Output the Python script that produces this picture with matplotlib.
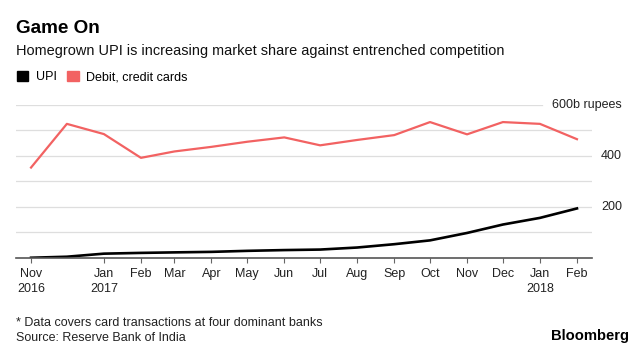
import matplotlib
matplotlib.use("Agg")
import matplotlib.pyplot as plt
from matplotlib.patches import Rectangle
from matplotlib.transforms import blended_transform_factory
import datetime as dt

plt.rcParams['font.family'] = ['Liberation Sans', 'DejaVu Sans']

# ---- data ----
months = ["2016-11", "2016-12", "2017-01", "2017-02", "2017-03", "2017-04",
          "2017-05", "2017-06", "2017-07", "2017-08", "2017-09", "2017-10",
          "2017-11", "2017-12", "2018-01", "2018-02"]
upi = [1, 5, 17, 20, 22, 24, 28, 31, 33, 41, 54, 69, 98, 131, 157, 194]
cards = [354, 525, 485, 392, 417, 435, 455, 472, 441, 462, 481, 532,
         484, 532, 525, 465]
tick_months = ["2016-11", "2017-01", "2017-02", "2017-03", "2017-04", "2017-05",
               "2017-06", "2017-07", "2017-08", "2017-09", "2017-10", "2017-11",
               "2017-12", "2018-01", "2018-02"]
tick_labels = ["Nov\n2016", "Jan\n2017", "Feb", "Mar", "Apr", "May", "Jun",
               "Jul", "Aug", "Sep", "Oct", "Nov", "Dec", "Jan\n2018", "Feb"]
grid_values = [100, 200, 300, 400, 500, 600]
ylabel_values = [200, 400, 600]
ylabel_texts = ["200", "400", "600b rupees"]

def to_date(s):
    y, m = s.split("-")
    return dt.date(int(y), int(m), 1)

x = [to_date(m) for m in months]
xt = [to_date(m) for m in tick_months]

RED = "#f26262"
TXT = "#222222"
W, H = 640, 351
fig = plt.figure(figsize=(6.4, 3.51), dpi=100)
ax = fig.add_axes([16 / W, 1 - 258 / H, 576 / W, (258 - 104.7) / H])

# gridlines
for v in grid_values:
    xmax = (541.7 - 16) / 576 if v == max(grid_values) else 1
    ax.axhline(v, xmin=0, xmax=xmax, color="#dedede", lw=0.9, zorder=0)

ax.plot(x, cards, color=RED, lw=1.6, zorder=3)
ax.plot(x, upi, color="black", lw=1.9, zorder=4)

ax.set_ylim(0, 600)
ax.set_xlim(dt.datetime(2016, 10, 19, 10), dt.datetime(2018, 2, 13, 14))

for s in ["top", "right", "left"]:
    ax.spines[s].set_visible(False)
ax.spines["bottom"].set_color("#555555")
ax.spines["bottom"].set_linewidth(1.2)
ax.spines["bottom"].set_zorder(5)
ax.set_yticks([])
ax.set_xticks(xt)
ax.set_xticklabels(tick_labels, fontsize=9, color=TXT, linespacing=1.3)
ax.tick_params(axis="x", length=3.4, width=0.8, color="#666666", pad=4.0)
ax.patch.set_visible(False)

ytrans = blended_transform_factory(fig.transFigure, ax.transData)
for v, t in zip(ylabel_values, ylabel_texts):
    ax.text(622 / W, v, t, transform=ytrans, fontsize=9,
            color=TXT, ha="right", va="center", clip_on=False)

# titles
fig.text(16 / W, 1 - 33.3 / H, "Game On", fontsize=13.6, fontweight="bold",
         va="baseline", ha="left", color="black")
fig.text(16 / W, 1 - 54.5 / H,
         "Homegrown UPI is increasing market share against entrenched competition",
         fontsize=10.45, va="baseline", ha="left", color="#111111")

# legend
fig.patches.append(Rectangle((17 / W, 1 - 80.7 / H), 11 / W, 10 / H,
                             transform=fig.transFigure, color="black"))
fig.text(36 / W, 1 - 80 / H, "UPI", fontsize=9, va="baseline", ha="left")
fig.patches.append(Rectangle((67 / W, 1 - 80.7 / H), 12 / W, 10 / H,
                             transform=fig.transFigure, color=RED))
fig.text(86 / W, 1 - 80 / H, "Debit, credit cards", fontsize=9,
         va="baseline", ha="left")

# footer
fig.text(16 / W, 1 - 326 / H, "* Data covers card transactions at four dominant banks",
         fontsize=9, va="baseline", ha="left", color=TXT)
fig.text(16 / W, 1 - 341 / H, "Source: Reserve Bank of India",
         fontsize=9, va="baseline", ha="left", color=TXT)
fig.text(629 / W, 1 - 340 / H, "Bloomberg", fontsize=10.6, fontweight="bold",
         va="baseline", ha="right", color="black")

fig.savefig("out.png", dpi=100)
